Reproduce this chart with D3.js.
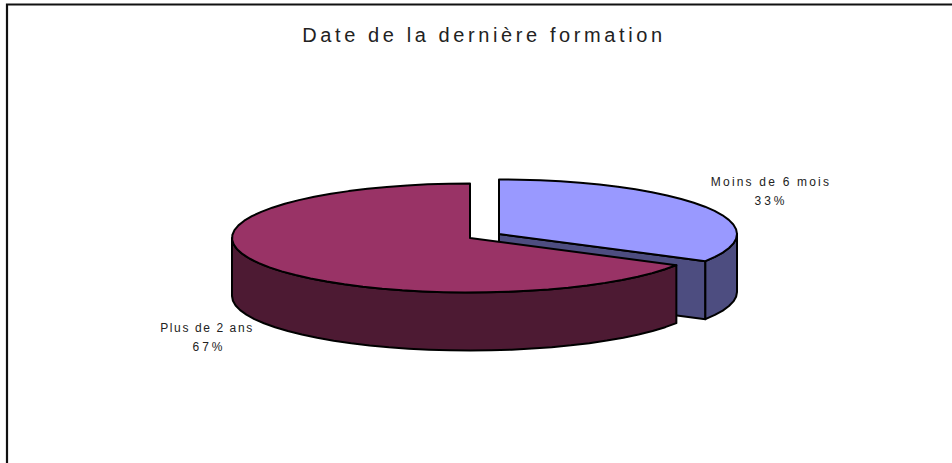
<!DOCTYPE html>
<html>
<head>
<meta charset="utf-8">
<script src="https://cdn.jsdelivr.net/npm/d3@7"></script>
<style>
  html, body { margin: 0; padding: 0; background: #fff; }
  svg { display: block; }
  text { font-family: "Liberation Sans", Arial, sans-serif; fill: #222; }
</style>
</head>
<body>
<svg id="chart" width="952" height="463"></svg>
<script>
// Chart data
const title = "Date de la dernière formation";
const categories = ["Moins de 6 mois", "Plus de 2 ans"];
const shares = [33.3, 66.7];
const shareLabels = ["33%", "67%"];
const topColors = ["#9999ff", "#993366"];
const sideColors = ["#4d4d80", "#4d1a33"];

const svg = d3.select("#chart");

// Frame, only the top and left edges show in the crop
svg.append("path")
    .attr("d", "M7,463V4.5H952")
    .attr("fill", "none")
    .attr("stroke", "#111")
    .attr("stroke-width", 2.2);

svg.append("text")
    .attr("x", 484)
    .attr("y", 42)
    .attr("text-anchor", "middle")
    .style("font-size", "20px")
    .style("letter-spacing", "3.6px")
    .text(title);

// Tilted pie: x and y scales squash the unit circle into an ellipse
const xScale = d3.scaleLinear().domain([-1, 1]).range([-238, 238]);
const yScale = d3.scaleLinear().domain([-1, 1]).range([-54.5, 54.5]);
const depth = 58;

const pie = d3.pie().sort(null).value(d => d).startAngle(0).endAngle(2 * Math.PI);
const slices = pie(shares);
// The small slice is pulled out to the upper right
const centers = [[499, 234], [470, 238]];

function rim(i, from, to) {
    const n = Math.max(2, Math.ceil((to - from) / 0.09));
    return d3.range(n + 1).map(k => {
        const a = from + (to - from) * k / n;
        return [centers[i][0] + xScale(Math.sin(a)), centers[i][1] - yScale(Math.cos(a))];
    });
}

const line = d3.line();

function shape(d, fill) {
    return svg.append("path")
        .attr("d", d)
        .attr("fill", fill)
        .attr("stroke", "#000")
        .attr("stroke-width", 2)
        .attr("stroke-linejoin", "round");
}

function drop(points) {
    return points.map(p => [p[0], p[1] + depth]).reverse();
}

// Draw the blue slice first, the big slice overlaps it
slices.forEach((slice, i) => {
    const c = centers[i];
    const from = slice.startAngle, to = slice.endAngle;
    const arcPoints = rim(i, from, to);

    if (i === 0) {
        // cut face seen between the top and the big slice
        const end = arcPoints[arcPoints.length - 1];
        shape(line([c, end].concat(drop([c, end]))) + "Z", sideColors[i]);
    }

    // outer wall, only the part facing the viewer
    const frontFrom = Math.max(from, Math.PI / 2);
    const frontTo = Math.min(to, 3 * Math.PI / 2);
    const front = rim(i, frontFrom, frontTo);
    shape(line(front.concat(drop(front))) + "Z", sideColors[i]);

    // top face
    shape(line([c].concat(arcPoints)) + "Z", topColors[i]);
});

// Labels
const labels = [
    { x: 771, pctX: 771, y: 186, spacing: 2.2, i: 0 },
    { x: 207, pctX: 209, y: 332, spacing: 1.6, i: 1 }
];
labels.forEach(l => {
    const t = svg.append("text")
        .attr("text-anchor", "middle")
        .style("font-size", "12px");
    t.append("tspan").attr("x", l.x).attr("y", l.y)
        .style("letter-spacing", l.spacing + "px").text(categories[l.i]);
    t.append("tspan").attr("x", l.pctX).attr("y", l.y + 19)
        .style("letter-spacing", "3px").text(shareLabels[l.i]);
});
</script>
</body>
</html>
